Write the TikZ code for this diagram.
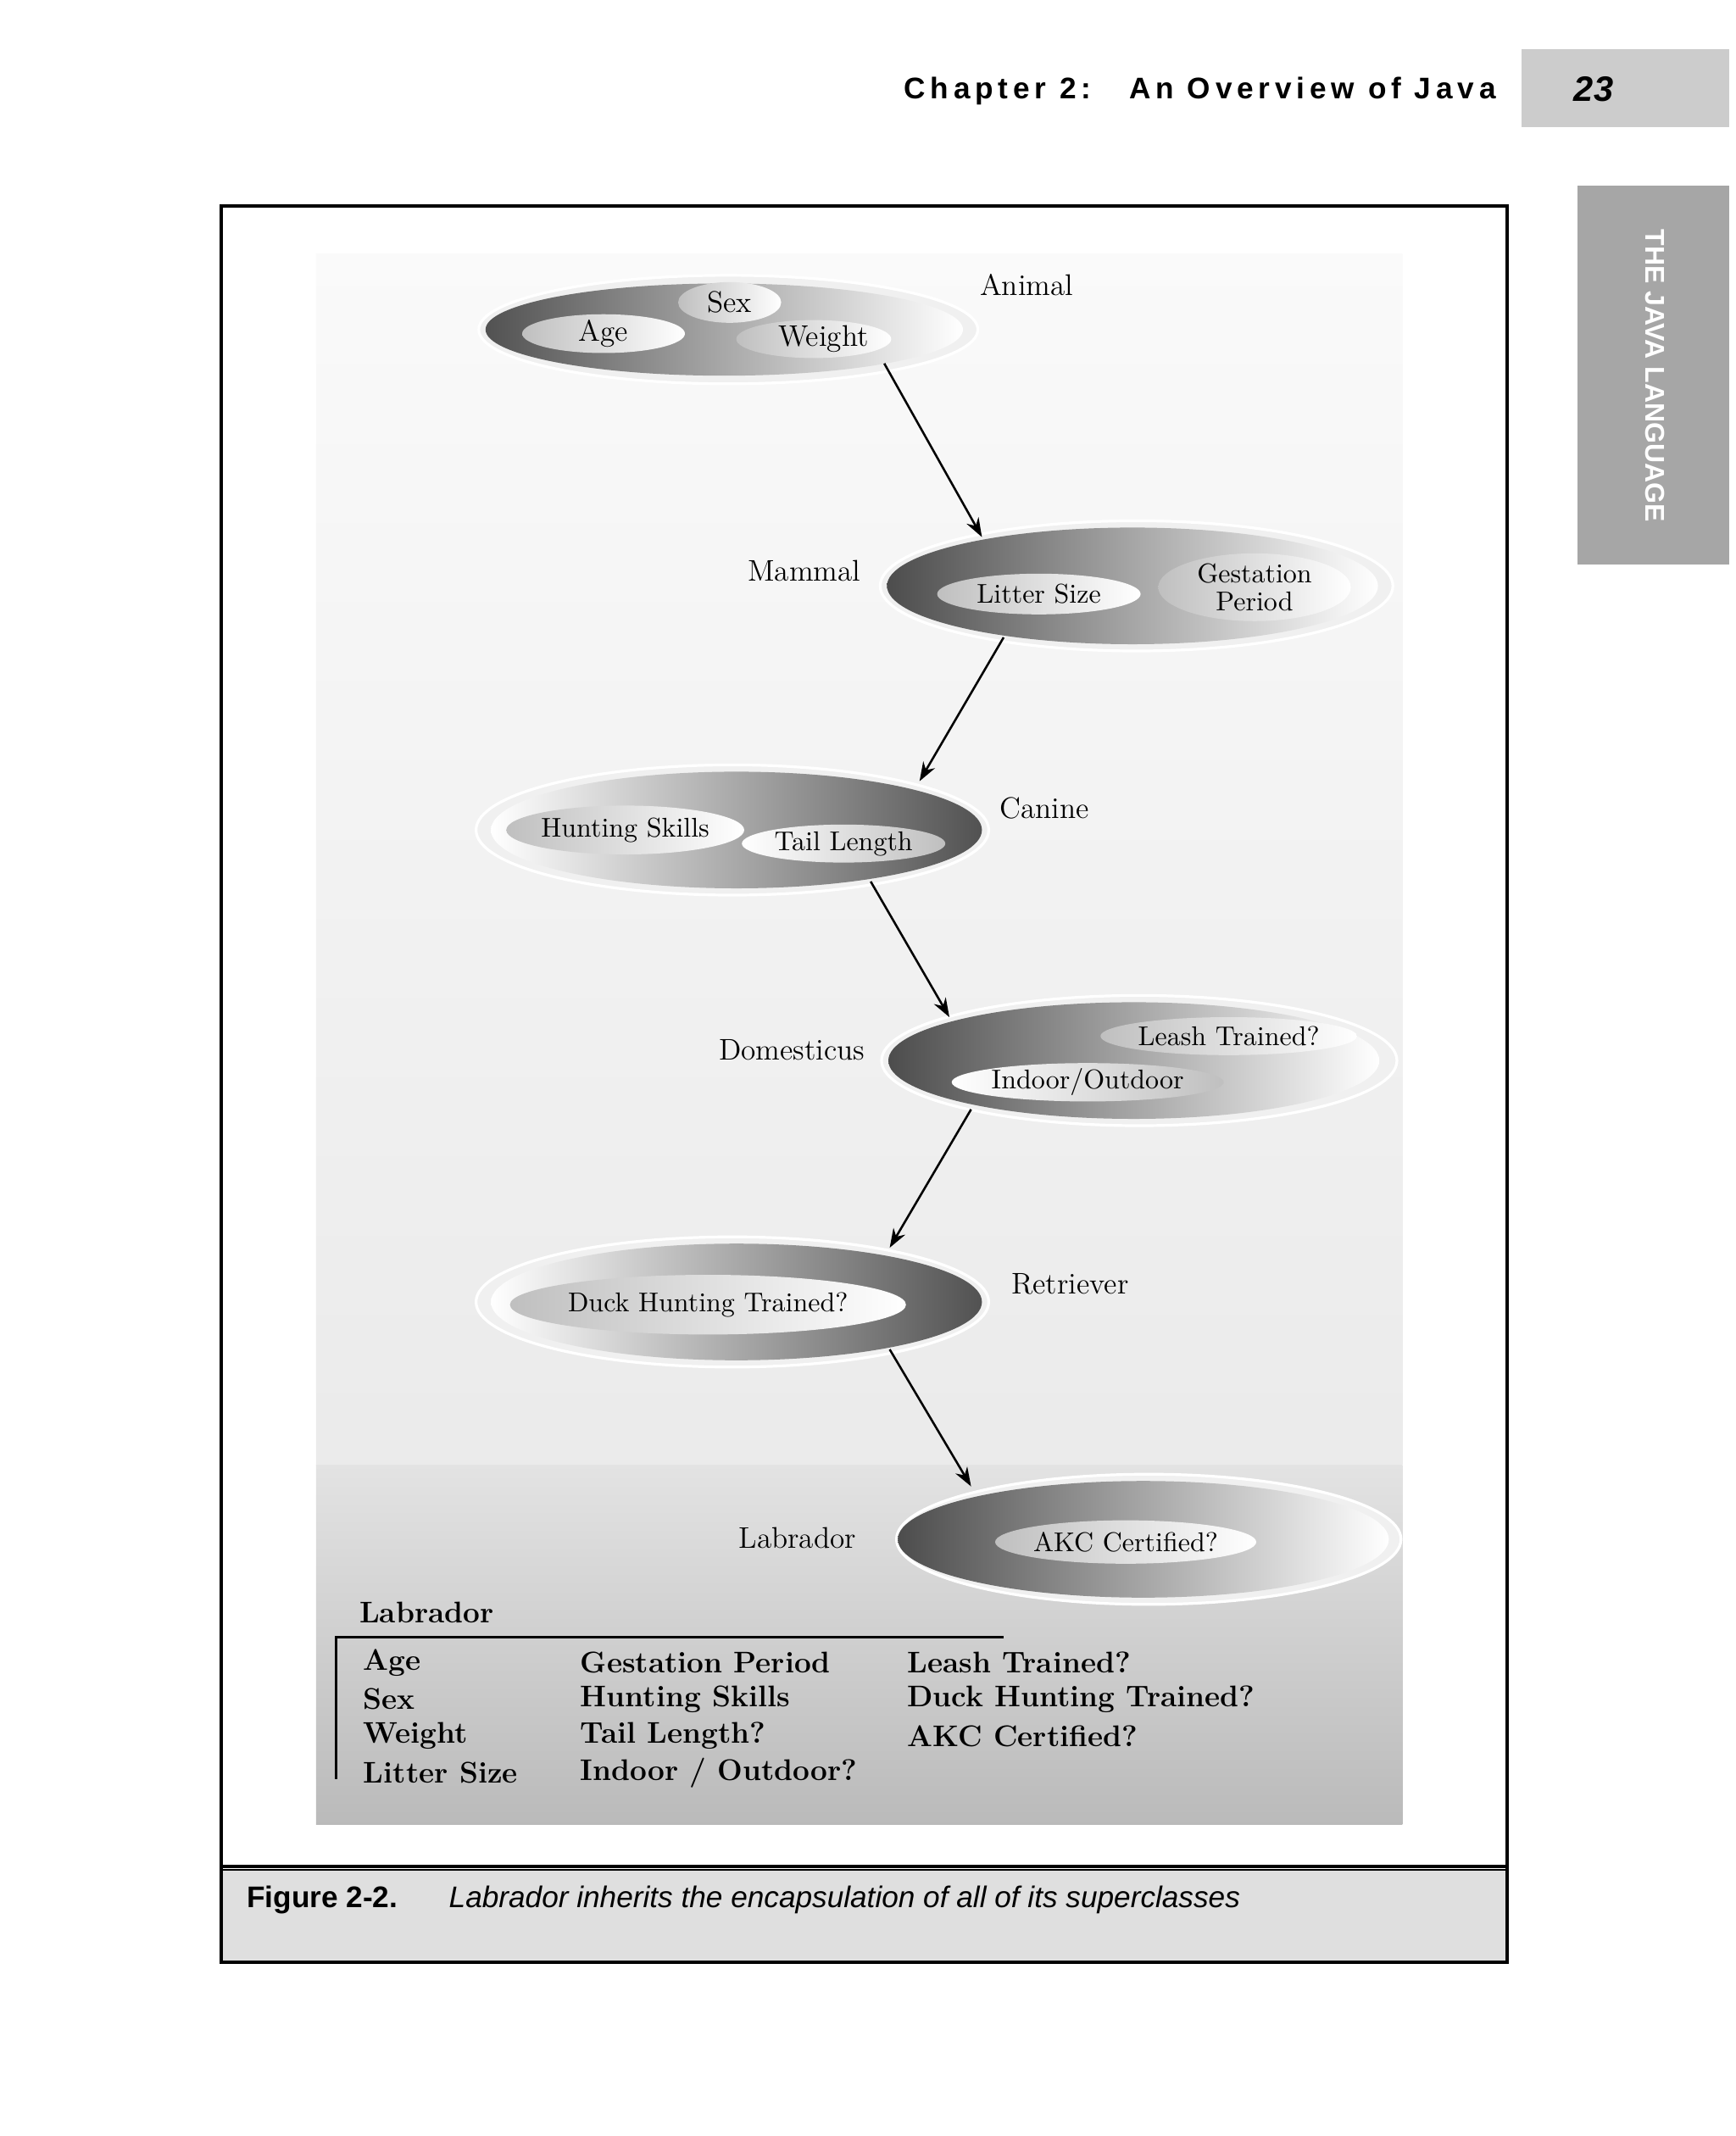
\documentclass[tikz,border=0pt]{standalone}
\usepackage{fontspec}
\newfontfamily\hsans{Liberation Sans}
\usetikzlibrary{shapes.geometric,arrows.meta}
\begin{document}
\begin{tikzpicture}[x=0.5pt,y=-0.5pt,
  lbl/.style={font=\fontsize{11}{13}\selectfont},
  bt/.style={font=\bfseries\fontsize{11}{12}\selectfont,anchor=west},
  halo/.style={ellipse,inner sep=0,fill=gray!12,draw=white,line width=1pt},
  dl/.style={ellipse,inner sep=0,left color=black!68,right color=white},
  ld/.style={ellipse,inner sep=0,left color=white,middle color=black!60,right color=black!68},
  dlm/.style={ellipse,inner sep=0,left color=black!70,middle color=black!62,right color=white},
  sub/.style={ellipse,inner sep=0,left color=black!25,right color=white,font=\fontsize{10}{10.5}\selectfont,align=center},
  subr/.style={ellipse,inner sep=0,left color=white,right color=black!25,font=\fontsize{10}{10.5}\selectfont,align=center},
  arr/.style={-{Stealth[length=7pt,width=5pt]},line width=0.8pt}]
\useasboundingbox (0,0) rectangle (1280,1575);
\fill[white] (0,0) rectangle (1280,1575);
% header
\node[anchor=east,font=\hsans\bfseries\fontsize{11}{12}\selectfont] (hdr) at (1110,67) {C\,h\,a\,p\,t\,e\,r\,\ 2\,:\quad\ A\,n\,\ O\,v\,e\,r\,v\,i\,e\,w\,\ o\,f\,\ J\,a\,v\,a};
\fill[gray!40] (1122,36) rectangle (1275,94);
\node[font=\hsans\bfseries\itshape\fontsize{13}{14}\selectfont] (pg) at (1175,66) {23};
\fill[gray!70] (1163,137) rectangle (1275,416);
\node[rotate=-90,text=white,font=\hsans\bfseries\fontsize{10}{11}\selectfont] (tab) at (1220,277) {THE JAVA LANGUAGE};
% frame
\fill[gray!25] (163,1378) rectangle (1111,1447);
\draw[line width=1.2pt] (163,152) rectangle (1111,1447);
\draw[line width=1.2pt] (163,1376) -- (1111,1376);
\draw[line width=0.6pt] (163,1379) -- (1111,1379);
\node[anchor=west,font=\hsans\bfseries\fontsize{11}{12}\selectfont] (fig) at (175,1401) {Figure 2-2.};
\node[anchor=west,font=\hsans\itshape\fontsize{11}{12}\selectfont] (cap) at (324,1401) {Labrador inherits the encapsulation of all of its superclasses};
% panel
\shade[top color=black!2,bottom color=black!8] (233,187) rectangle (1034,1080);
\shade[top color=black!11,bottom color=black!27] (233,1080) rectangle (1034,1345);
% Animal
\node[halo,minimum width=184,minimum height=40] (animalh) at (537,243) {};
\node[dl,minimum width=176,minimum height=34] (animal) at (534,243) {};
\node[sub,minimum width=60,minimum height=14,font=\fontsize{11}{12}\selectfont] (age) at (445,246) {Age};
\node[sub,minimum width=38,minimum height=15,font=\fontsize{11}{12}\selectfont] (sex) at (538,223) {Sex};
\node[sub,minimum width=56,minimum height=14,font=\fontsize{11}{12}\selectfont] (weight) at (600,250) {\ \ Weight};
\node[lbl] (lanimal) at (757,210) {Animal};
% Mammal
\node[halo,minimum width=189,minimum height=48] (mammalh) at (838,432) {};
\node[dlm,minimum width=181,minimum height=43] (mammal) at (835,432) {};
\node[sub,minimum width=75,minimum height=15] (litter) at (766,438) {Litter Size};
\node[sub,minimum width=71,minimum height=22] (gest) at (925,433) {Gestation\\Period};
\node[lbl] (lmammal) at (593,421) {Mammal};
% Canine
\node[halo,minimum width=189,minimum height=48] (canineh) at (540,612) {};
\node[ld,minimum width=181,minimum height=43] (canine) at (543,612) {};
\node[sub,minimum width=78,minimum height=18] (hunt) at (461,612) {Hunting Skills};
\node[subr,minimum width=75,minimum height=14] (tail) at (622,622) {Tail Length};
\node[lbl] (lcanine) at (770,596) {Canine};
% Domesticus
\node[halo,minimum width=190,minimum height=48] (domh) at (840,782) {};
\node[dlm,minimum width=181,minimum height=43] (dom) at (836,782) {};
\node[sub,minimum width=82,minimum height=14] (leash) at (906,764) {Leash Trained?};
\node[subr,minimum width=95,minimum height=14] (indoor) at (802,798) {Indoor/Outdoor};
\node[lbl] (ldom) at (584,774) {Domesticus};
% Retriever
\node[halo,minimum width=189,minimum height=48] (reth) at (540,960) {};
\node[ld,minimum width=181,minimum height=43] (ret) at (543,960) {};
\node[sub,minimum width=116,minimum height=22] (duck) at (522,962) {Duck Hunting Trained?};
\node[lbl] (lret) at (789,947) {Retriever};
% Labrador
\node[halo,minimum width=186,minimum height=48] (labh) at (847,1135) {};
\node[dlm,minimum width=181,minimum height=43] (lab) at (843,1135) {};
\node[sub,minimum width=95,minimum height=16] (akc) at (830,1137) {AKC Certified?};
\node[lbl] (llab) at (588,1134) {Labrador};
% arrows
\coordinate (a1) at (652,268); \coordinate (b1) at (724,396);
\coordinate (a2) at (740,470); \coordinate (b2) at (678,576);
\coordinate (a3) at (642,650); \coordinate (b3) at (700,750);
\coordinate (a4) at (716,818); \coordinate (b4) at (656,920);
\coordinate (a5) at (656,995); \coordinate (b5) at (716,1096);
\draw[arr] (a1) -- (b1);
\draw[arr] (a2) -- (b2);
\draw[arr] (a3) -- (b3);
\draw[arr] (a4) -- (b4);
\draw[arr] (a5) -- (b5);
% summary
\node[bt] (ltitle) at (258,1189) {Labrador};
\coordinate (c1) at (740,1207); \coordinate (c2) at (248,1207); \coordinate (c3) at (248,1312);
\draw[line width=1pt] (c1) -- (c2) -- (c3);
\node[bt] (t11) at (261,1226) {Age};
\node[bt] (t12) at (261,1253) {Sex};
\node[bt] (t13) at (261,1280) {Weight};
\node[bt] (t14) at (261,1307) {Litter Size};
\node[bt] (t21) at (421,1226) {Gestation Period};
\node[bt] (t22) at (421,1253) {Hunting Skills};
\node[bt] (t23) at (421,1280) {Tail Length?};
\node[bt] (t24) at (421,1307) {Indoor / Outdoor?};
\node[bt] (t31) at (662,1226) {Leash Trained?};
\node[bt] (t32) at (662,1253) {Duck Hunting Trained?};
\node[bt] (t33) at (662,1280) {AKC Certified?};
\end{tikzpicture}
\end{document}
